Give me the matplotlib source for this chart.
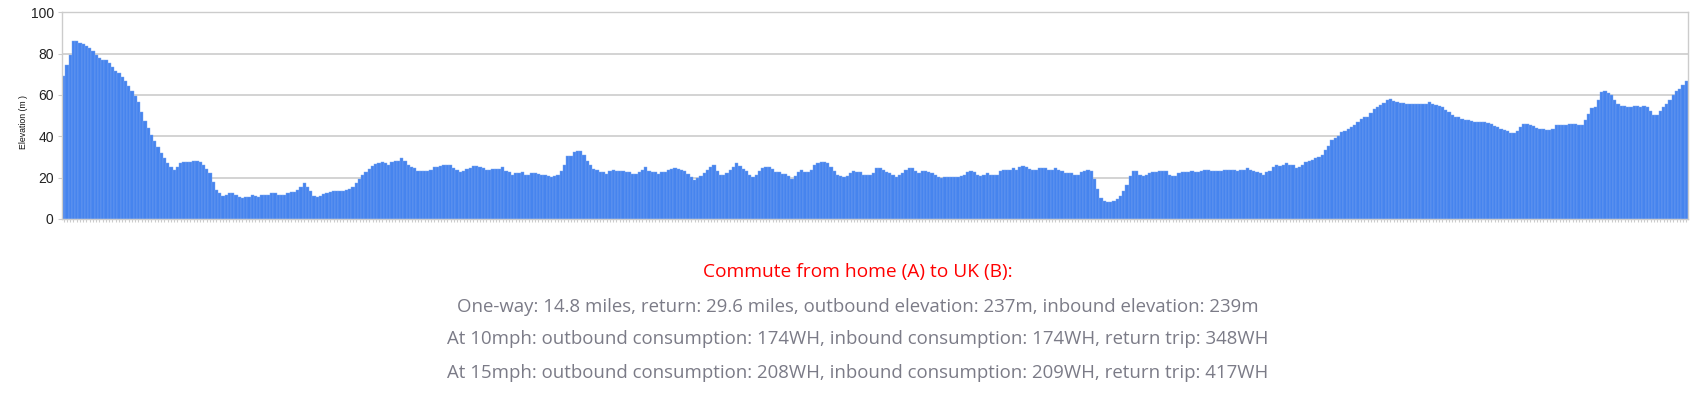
import matplotlib
matplotlib.use("Agg")
import matplotlib.pyplot as plt
import numpy as np

# Elevation profile (m), one value per sample along the route
elev_part1 = [69.2, 74.5, 79.4, 86.1, 86.0, 85.0, 84.5, 83.9, 82.9, 81.3,
              79.4, 77.7, 77.1, 77.1, 75.3, 73.4, 71.8, 70.5, 68.5, 66.9,
              64.4, 62.1, 59.5, 56.6, 51.6, 47.4, 43.9, 40.8, 37.7, 34.8,
              31.8, 29.4, 26.9, 25.0, 23.9, 25.0, 26.9, 27.4, 27.4, 27.4,
              28.0, 28.0, 27.6, 26.3, 24.4, 22.1, 17.7, 14.0, 12.4, 11.3,
              11.8, 12.4, 12.4, 11.6, 10.6, 10.0, 10.5, 10.5, 11.6, 11.1,
              10.5, 11.5, 11.8, 11.8, 12.4, 12.4, 11.8, 11.8, 11.8, 12.4,
              12.9, 12.9, 14.2, 15.6, 17.3, 15.3, 13.4, 11.0, 10.5, 11.1,
              11.9, 12.4, 13.1, 13.4, 13.4, 13.4, 13.4, 14.0, 14.7, 15.3,
              17.3, 19.5, 21.5, 22.6, 24.4, 25.8, 26.6, 26.9, 27.4, 26.9]
elev_part2 = [26.3, 27.4, 27.9, 28.0, 29.4, 28.0, 26.3, 25.3, 24.7, 23.2,
              23.2, 23.2, 23.2, 23.9, 25.0, 25.0, 25.6, 26.3, 26.3, 26.3,
              24.5, 23.9, 22.7, 23.2, 24.4, 24.5, 25.6, 25.6, 25.2, 24.5,
              23.9, 23.9, 24.4, 24.4, 24.4, 25.0, 23.2, 22.6, 21.5, 22.1,
              22.1, 22.6, 21.3, 21.3, 22.1, 22.1, 21.9, 21.5, 21.5, 21.0,
              20.3, 21.0, 21.3, 23.2, 26.3, 30.5, 30.5, 32.3, 32.9, 32.9,
              31.0, 28.0, 26.3, 24.4, 23.7, 22.6, 22.6, 21.9, 23.2, 23.9,
              23.2, 23.2, 23.2, 22.6, 22.6, 21.9, 21.9, 22.6, 23.9, 25.0,
              23.2, 22.6, 22.6, 21.9, 22.6, 22.6, 23.9, 24.4, 24.5, 24.4,
              23.9, 23.2, 21.9, 20.3, 19.0, 19.7, 20.8, 22.1, 23.9, 25.0]
elev_part3 = [26.3, 23.2, 21.5, 21.5, 22.1, 23.9, 25.0, 26.9, 25.6, 24.4,
              23.2, 21.5, 20.3, 21.5, 23.2, 24.5, 25.0, 25.0, 24.4, 22.6,
              22.6, 21.9, 21.9, 20.8, 19.5, 20.8, 22.6, 23.9, 22.6, 22.6,
              23.9, 26.3, 26.9, 27.4, 27.4, 26.9, 25.2, 23.2, 21.5, 20.8,
              20.3, 20.8, 22.1, 23.2, 22.6, 22.6, 21.5, 21.5, 21.5, 22.1,
              24.5, 24.5, 23.9, 22.6, 22.1, 21.5, 20.3, 21.5, 22.1, 23.9,
              24.5, 24.5, 23.2, 22.1, 23.2, 23.2, 22.6, 22.1, 21.5, 20.3,
              19.7, 20.3, 20.3, 20.3, 20.3, 20.3, 20.8, 21.5, 22.6, 23.2,
              22.6, 21.5, 20.8, 21.5, 22.1, 21.5, 21.5, 21.5, 23.2, 23.9,
              23.9, 23.9, 24.5, 23.9, 25.0, 25.6, 25.0, 24.4, 23.9, 23.9]
elev_part4 = [24.5, 24.5, 24.5, 23.9, 23.9, 24.5, 23.9, 23.2, 22.1, 22.1,
              22.1, 21.5, 21.5, 22.6, 23.2, 23.9, 23.2, 19.5, 14.7, 10.0,
              8.7, 8.2, 8.2, 8.7, 9.8, 11.1, 13.5, 16.6, 20.8, 23.2,
              23.2, 21.5, 20.8, 21.5, 22.1, 22.6, 22.6, 23.2, 23.2, 23.2,
              21.5, 20.8, 20.8, 22.1, 22.6, 22.6, 22.6, 23.2, 22.6, 22.6,
              23.2, 23.9, 23.9, 23.2, 23.2, 23.2, 23.2, 23.9, 23.9, 23.9,
              23.9, 23.2, 23.9, 23.9, 24.5, 23.9, 23.2, 22.6, 22.1, 21.5,
              22.6, 23.2, 25.0, 26.3, 25.8, 26.3, 26.9, 26.3, 26.3, 24.5,
              25.0, 26.3, 27.6, 28.0, 28.7, 29.4, 30.0, 31.1, 33.4, 35.5,
              38.1, 39.4, 40.0, 41.9, 42.4, 43.7, 44.4, 45.6, 46.9, 48.2]
elev_part5 = [49.2, 49.2, 51.1, 53.1, 54.2, 55.3, 56.3, 57.6, 57.9, 57.3,
              56.6, 56.0, 56.0, 55.8, 55.8, 55.8, 55.8, 55.8, 55.8, 55.8,
              56.5, 55.8, 55.2, 54.7, 54.2, 52.9, 51.6, 50.3, 49.2, 49.2,
              48.5, 47.9, 47.9, 47.3, 46.8, 46.8, 46.8, 46.8, 46.3, 46.1,
              45.0, 44.4, 43.7, 43.1, 42.4, 41.5, 41.5, 42.4, 44.4, 46.1,
              46.1, 45.5, 44.8, 44.2, 43.7, 43.7, 43.1, 43.1, 43.7, 45.5,
              45.5, 45.5, 45.5, 46.1, 46.1, 46.1, 45.5, 45.5, 48.1, 51.0,
              53.5, 54.0, 57.6, 61.5, 61.9, 60.8, 59.8, 57.6, 55.8, 54.7,
              54.7, 54.0, 54.0, 54.7, 54.7, 54.0, 54.7, 54.0, 52.3, 50.5,
              50.5, 52.3, 54.0, 55.8, 57.7, 60.0, 61.9, 63.1, 64.7, 66.8]
elevation = elev_part1 + elev_part2 + elev_part3 + elev_part4 + elev_part5

y_ticks = [0, 20, 40, 60, 80, 100]
y_label = "Elevation (m )"
title_line = "Commute from home (A) to UK (B):"
info_lines = [
    "One-way: 14.8 miles, return: 29.6 miles, outbound elevation: 237m, inbound elevation: 239m",
    "At 10mph: outbound consumption: 174WH, inbound consumption: 174WH, return trip: 348WH",
    "At 15mph: outbound consumption: 208WH, inbound consumption: 209WH, return trip: 417WH",
]

W, H = 1704, 395
fig = plt.figure(figsize=(W / 100, H / 100), dpi=100)
ax = fig.add_axes([62 / W, 1 - 219 / H, (1688 - 62) / W, (219 - 12.3) / H])

x = np.arange(len(elevation))
ax.bar(x, elevation, width=1.0, color="#4684ee", edgecolor="#78a5f2",
       linewidth=0.3, zorder=2)

ax.set_xlim(-0.5, len(elevation) - 0.5)
ax.set_ylim(0, 100)
ax.set_yticks(y_ticks)
ax.set_yticklabels([str(t) for t in y_ticks], fontfamily="Liberation Sans",
                   fontsize=10, color="#222222")
ax.yaxis.grid(True, color="#cccccc", linewidth=1.2, zorder=0)
ax.set_axisbelow(True)
ax.set_xticks(x)
ax.set_xticklabels([])
ax.tick_params(axis="x", length=2.5, width=0.8, color="#cccccc", direction="out")
ax.tick_params(axis="y", length=3, width=0.8, color="#cccccc", pad=3)
for s in ax.spines.values():
    s.set_color("#cccccc")
    s.set_linewidth(1.0)

fig.text(23 / W, 1 - 122 / H, y_label, rotation=90, ha="center", va="center",
         fontfamily="Liberation Sans", fontsize=6.3, color="#111111")

cx = 858 / W
fig.text(cx, 1 - 272.5 / H, title_line, ha="center", va="center",
         fontfamily="Open Sans", fontsize=13.8, color="#ff0000")
for yy, line in zip([306.5, 339.5, 373.5], info_lines):
    fig.text(cx, 1 - yy / H, line, ha="center", va="center",
             fontfamily="Open Sans", fontsize=13.4, color="#7b7b87")

assert len(elevation) == 500
fig.savefig("out.png", dpi=100)
